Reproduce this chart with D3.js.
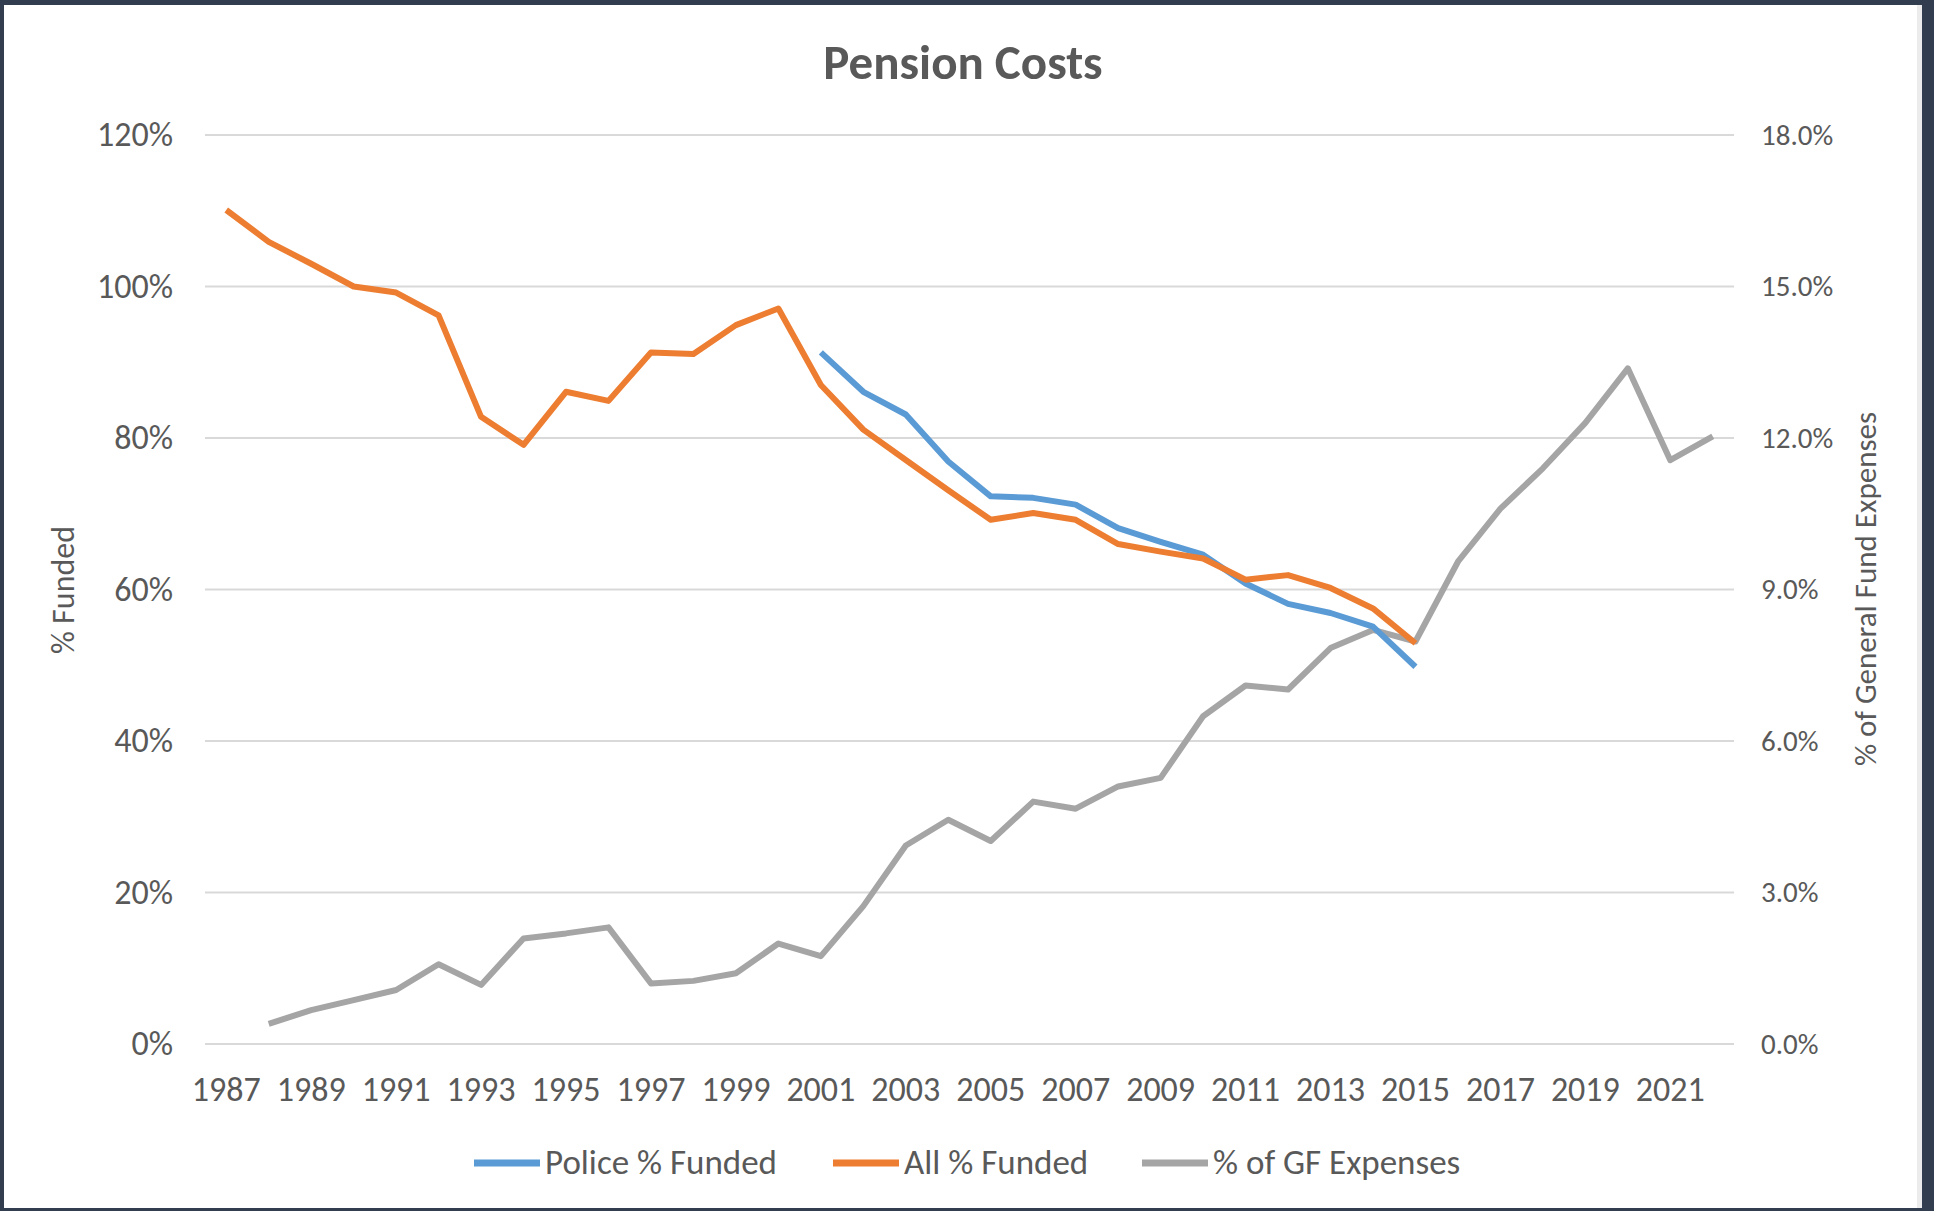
<!DOCTYPE html>
<html>
<head>
<meta charset="utf-8">
<script src="https://cdn.jsdelivr.net/npm/d3@7"></script>
<style>
  html, body { margin: 0; padding: 0; background: #323e4f; }
  svg { display: block; }
  text { font-family: Carlito, Calibri, Lato, "Open Sans", sans-serif; }
</style>
</head>
<body>
<svg id="chart" width="1934" height="1211"></svg>
<script>
// ---------------- DATA ----------------
const years = d3.range(1987, 2023).map(String);
const xTickLabels = ["1987","1989","1991","1993","1995","1997","1999","2001","2003","2005","2007","2009","2011","2013","2015","2017","2019","2021"];
const leftTicks = [0, 20, 40, 60, 80, 100, 120];
const rightTicks = [0, 3, 6, 9, 12, 15, 18];

// Police % Funded (2001-2015)
const policeYears = ["2001","2002","2003","2004","2005","2006","2007","2008","2009","2010","2011","2012","2013","2014","2015"];
const policeFunded = [91.3, 86.1, 83.1, 76.9, 72.3, 72.1, 71.2, 68.1, 66.3, 64.6, 60.8, 58.1, 56.9, 55.1, 49.8];

// All % Funded (1987-2015)
const allYears = d3.range(1987, 2016).map(String);
const allFunded = [110.1, 105.9, 103.0, 100.0, 99.2, 96.2, 82.8, 79.1, 86.1, 84.9, 91.3, 91.1, 94.9, 97.1, 87.0,
                   81.1, 77.1, 73.1, 69.2, 70.1, 69.2, 66.0, 65.0, 64.1, 61.3, 61.9, 60.2, 57.5, 52.9];

// % of GF Expenses (1988-2022), right axis
const gfYears = d3.range(1988, 2023).map(String);
const gfExpenses = [0.40, 0.67, 0.87, 1.07, 1.58, 1.17, 2.09, 2.19, 2.31, 1.20, 1.25, 1.40, 1.99, 1.74,
                    2.73, 3.93, 4.44, 4.02, 4.80, 4.66, 5.10, 5.27, 6.49, 7.10, 7.02, 7.84, 8.20, 7.97,
                    9.55, 10.6, 11.4, 12.3, 13.38, 11.56, 12.03];

const seriesNames = ["Police % Funded", "All % Funded", "% of GF Expenses"];
const seriesColors = ["#5b9bd5", "#ed7d31", "#a5a5a5"];

// ---------------- LAYOUT ----------------
const svg = d3.select("#chart");
const plot = { left: 205, right: 1734, top: 135, bottom: 1044 };
const textColor = "#595959";

svg.append("rect").attr("x", 4).attr("y", 5).attr("width", 1918).attr("height", 1203).attr("fill", "#ffffff");
svg.append("rect").attr("x", 1917).attr("y", 5).attr("width", 5).attr("height", 1203).attr("fill", "#ececec");

const x = d3.scaleBand().domain(years).range([plot.left, plot.right]).padding(0);
const xc = d => x(d) + x.bandwidth() / 2;
const yL = d3.scaleLinear().domain([0, 120]).range([plot.bottom, plot.top]);
const yR = d3.scaleLinear().domain([0, 18]).range([plot.bottom, plot.top]);

// gridlines
svg.append("g").selectAll("line").data(leftTicks).join("line")
  .attr("x1", plot.left).attr("x2", plot.right)
  .attr("y1", d => yL(d)).attr("y2", d => yL(d))
  .attr("stroke", "#d9d9d9").attr("stroke-width", 2);

// left axis
const gL = svg.append("g").attr("transform", `translate(${plot.left},0)`)
  .call(d3.axisLeft(yL).tickValues(leftTicks).tickFormat(d => d + "%").tickSize(0).tickPadding(32));
gL.select(".domain").remove();
gL.selectAll("text").attr("fill", textColor).style("font-size", "34px");

// right axis
const gR = svg.append("g").attr("transform", `translate(${plot.right},0)`)
  .call(d3.axisRight(yR).tickValues(rightTicks).tickFormat(d => d.toFixed(1) + "%").tickSize(0).tickPadding(27));
gR.select(".domain").remove();
gR.selectAll("text").attr("fill", textColor).style("font-size", "29px");

// bottom axis
const gB = svg.append("g").attr("transform", `translate(0,${plot.bottom})`)
  .call(d3.axisBottom(x).tickValues(xTickLabels).tickSize(0).tickPadding(33));
gB.select(".domain").remove();
gB.selectAll("text").attr("fill", textColor).style("font-size", "34px");

// lines
const lineL = d3.line().x(d => xc(d[0])).y(d => yL(d[1]));
const lineR = d3.line().x(d => xc(d[0])).y(d => yR(d[1]));

svg.append("path").datum(gfYears.map((y, i) => [y, gfExpenses[i]]))
  .attr("d", lineR).attr("fill", "none").attr("stroke", seriesColors[2])
  .attr("stroke-width", 6).attr("stroke-linejoin", "round");
svg.append("path").datum(policeYears.map((y, i) => [y, policeFunded[i]]))
  .attr("d", lineL).attr("fill", "none").attr("stroke", seriesColors[0])
  .attr("stroke-width", 6).attr("stroke-linejoin", "round");
svg.append("path").datum(allYears.map((y, i) => [y, allFunded[i]]))
  .attr("d", lineL).attr("fill", "none").attr("stroke", seriesColors[1])
  .attr("stroke-width", 6).attr("stroke-linejoin", "round");

// title
svg.append("text").attr("x", 963).attr("y", 79).attr("text-anchor", "middle")
  .attr("fill", textColor).style("font-size", "49px").style("font-weight", "bold")
  .text("Pension Costs");

// axis titles
svg.append("text").attr("transform", "translate(74,590) rotate(-90)").attr("text-anchor", "middle")
  .attr("fill", textColor).style("font-size", "32px").text("% Funded");
svg.append("text").attr("transform", "translate(1876,589) rotate(-90)").attr("text-anchor", "middle")
  .attr("fill", textColor).style("font-size", "31px").text("% of General Fund Expenses");

// legend
const legendX = [474, 833, 1142];
const lg = svg.append("g");
seriesNames.forEach((name, i) => {
  lg.append("line").attr("x1", legendX[i]).attr("x2", legendX[i] + 66)
    .attr("y1", 1163).attr("y2", 1163).attr("stroke", seriesColors[i]).attr("stroke-width", 7);
  lg.append("text").attr("x", legendX[i] + 71).attr("y", 1174)
    .attr("fill", textColor).style("font-size", "35px").text(name);
});
</script>
</body>
</html>
